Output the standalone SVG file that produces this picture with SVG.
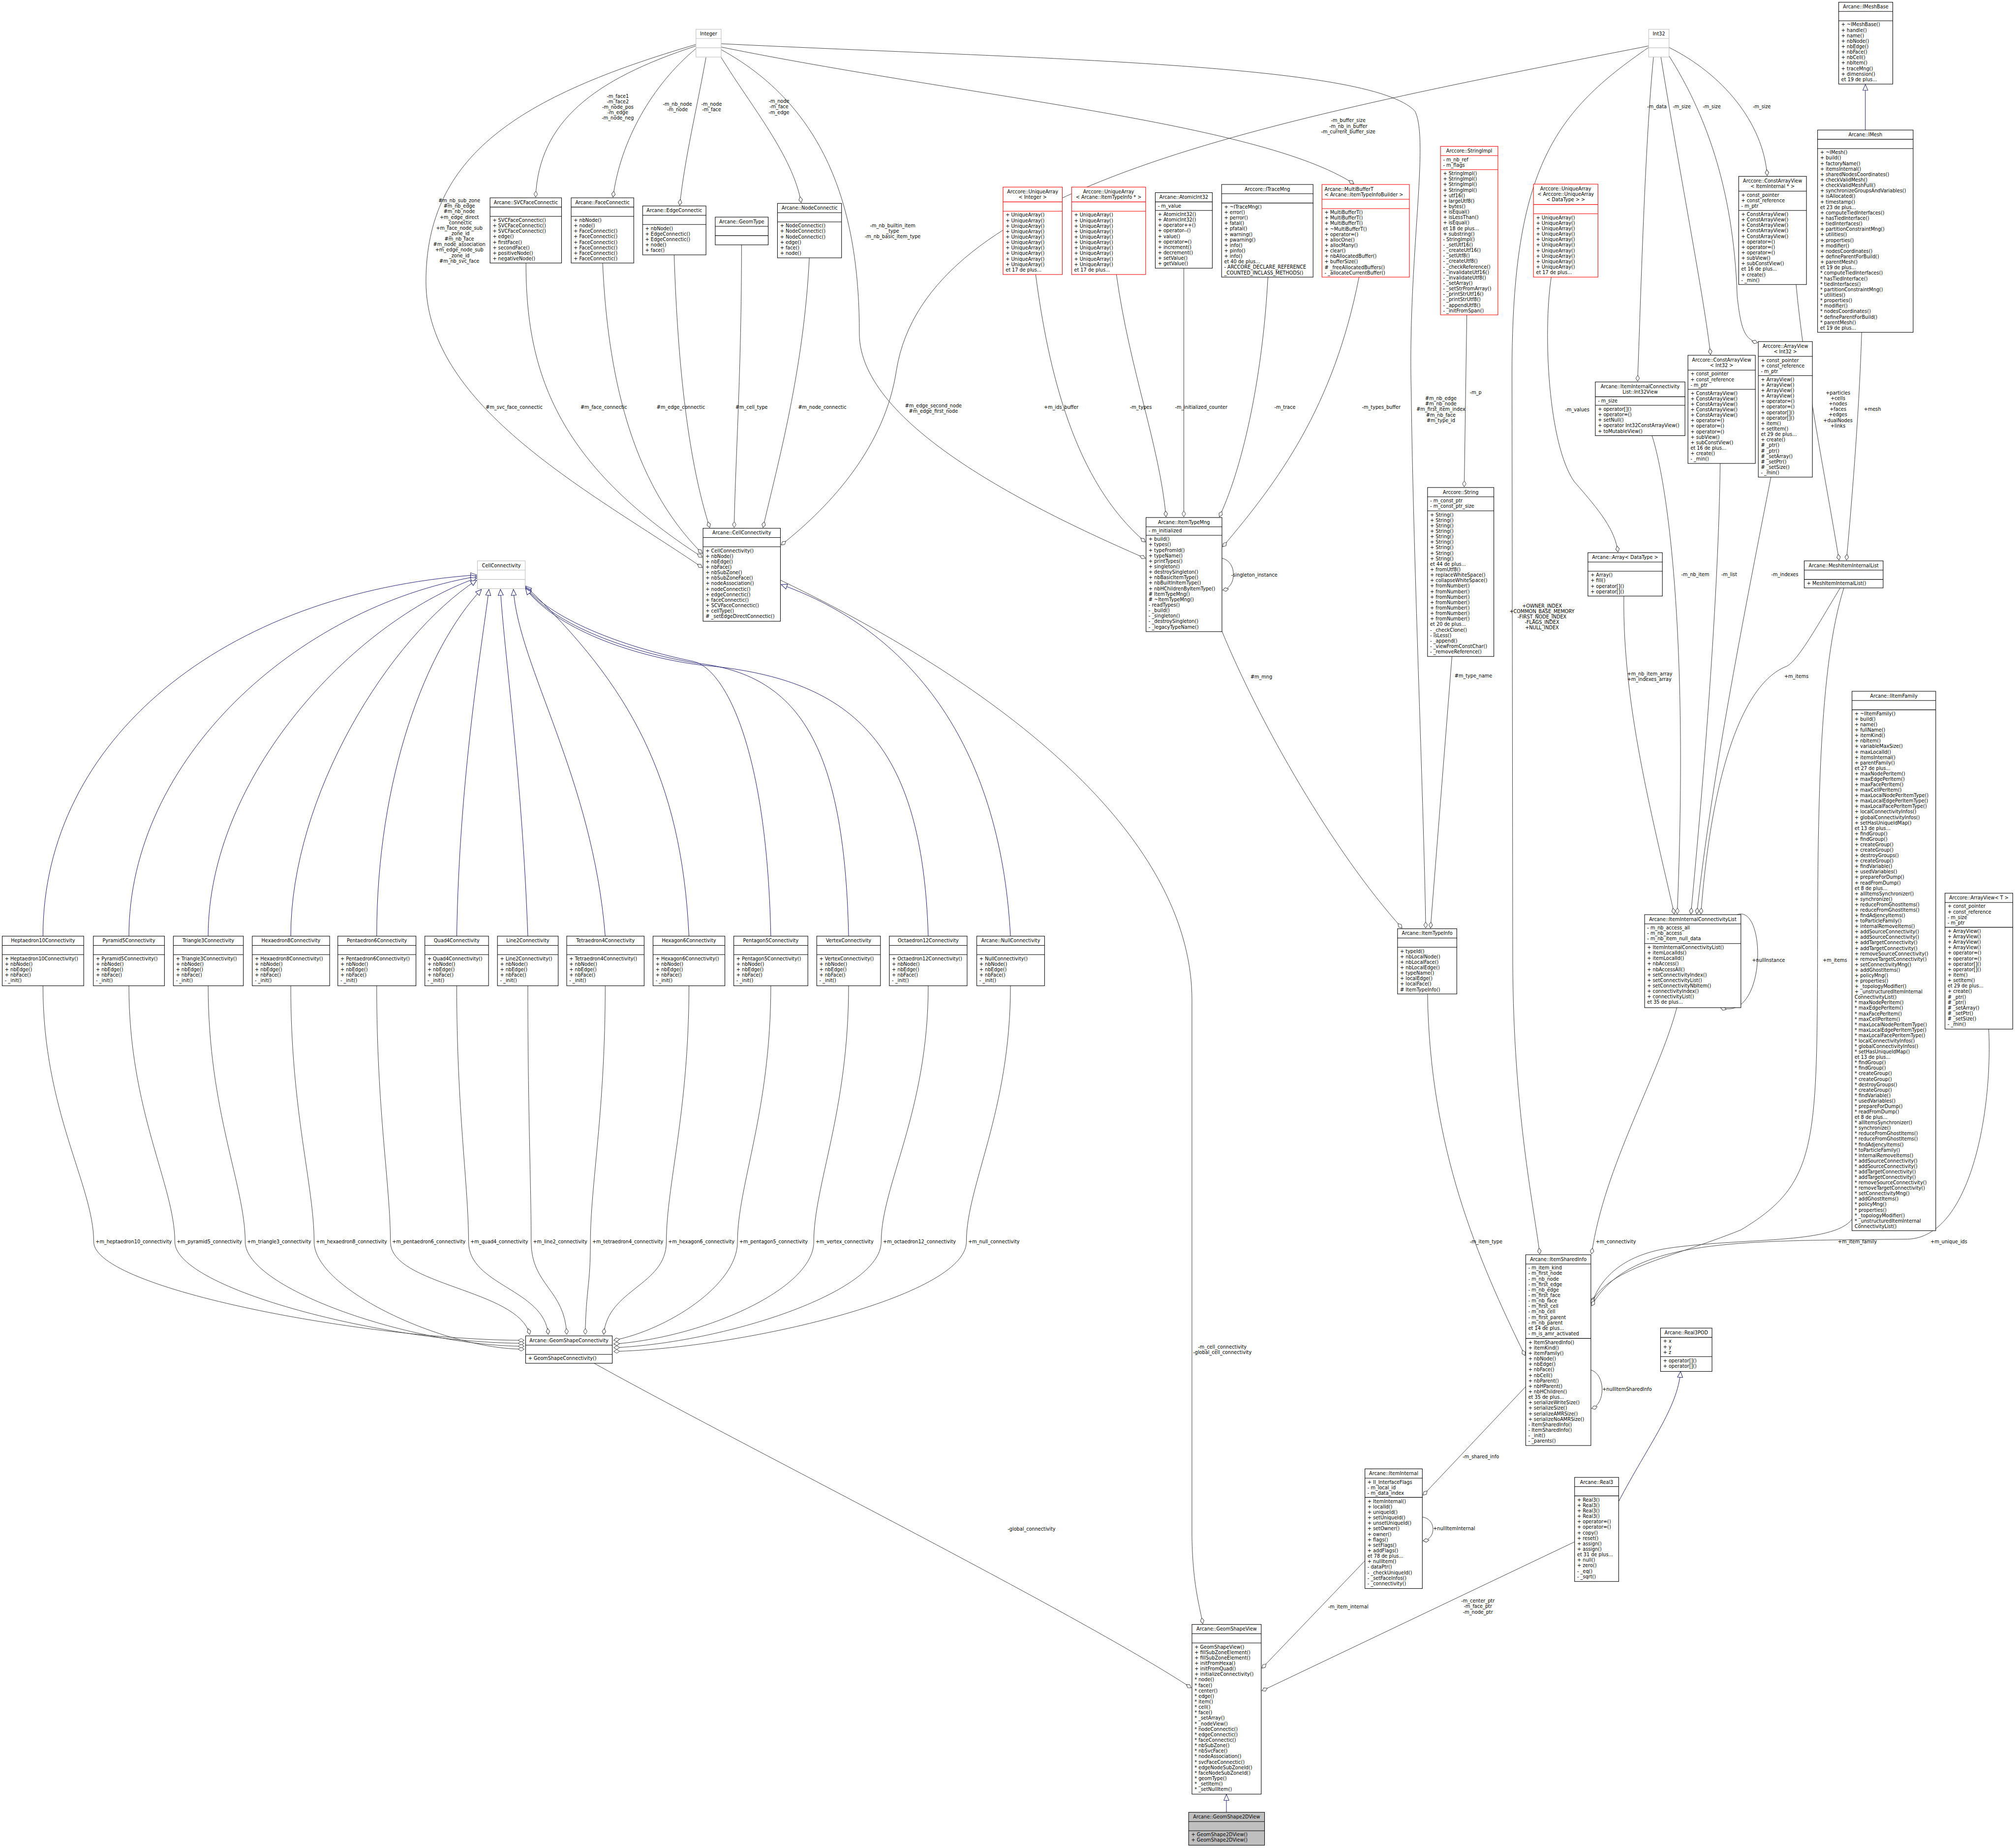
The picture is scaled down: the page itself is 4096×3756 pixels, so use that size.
<svg xmlns="http://www.w3.org/2000/svg" width="4096" height="3756" viewBox="0 0 4096 3756">
<style>
text{font-family:"DejaVu Sans","Liberation Sans",sans-serif;font-size:12.9px;fill:#000}
.t{text-anchor:middle}
.n rect{fill:#fff;stroke:#000;stroke-width:1.4}
.n line{stroke:#000;stroke-width:1.4}
.r rect,.r line{stroke:#f00}
.g rect,.g line{stroke:#bfbfbf}
.f rect{fill:#bfbfbf}
.e path{fill:none;stroke:#404040;stroke-width:1.3;marker-end:url(#d)}
.i path{fill:none;stroke:#191970;stroke-width:1.3;marker-end:url(#t)}
</style>
<defs>
<marker id="d" markerWidth="18" markerHeight="12" refX="17" refY="6" orient="auto" markerUnits="userSpaceOnUse"><path d="M1,6 L9,1 L17,6 L9,11 Z" fill="#fff" stroke="#404040" stroke-width="1.3"/></marker>
<marker id="t" markerWidth="18" markerHeight="16" refX="17" refY="8" orient="auto" markerUnits="userSpaceOnUse"><path d="M1,1 L17,8 L1,15 Z" fill="#fff" stroke="#191970" stroke-width="1.3"/></marker>
</defs>
<rect width="4096" height="3756" fill="#fff"/>
<g transform="scale(0.752941)">

<g id="edges" class="e">
<path d="M1879,124 C1600,215 1455,330 1446,532"/>
<path d="M1879,131 C1760,230 1675,380 1655,532"/>
<path d="M1906,155 C1880,300 1850,420 1835,554"/>
<path d="M1947,155 C2030,290 2140,420 2163,547"/>
<path d="M1879,120 C1400,260 1150,420 1150,760 C1150,1100 1600,1330 1896,1532"/>
<path d="M1420,710 C1420,1000 1500,1250 1896,1504"/>
<path d="M1627,710 C1640,1000 1700,1300 1896,1494"/>
<path d="M1820,688 C1830,1000 1860,1250 1916,1424"/>
<path d="M2002,661 C2002,1000 1985,1250 1982,1424"/>
<path d="M2185,696 C2170,1000 2100,1250 2060,1424"/>
<path d="M4451,124 C3400,330 2500,500 2420,1000 C2390,1200 2250,1360 2109,1471"/>
<path d="M1947,127 C2600,260 3400,330 3655,496"/>
<path d="M1947,118 C2800,160 3700,170 3820,300 C3860,380 3800,700 3810,1060 C3815,1500 3845,2200 3849,2505"/>
<path d="M1947,134 C2250,300 2320,600 2320,900 C2320,1150 2800,1380 3092,1507"/>
<path d="M2796,741 C2830,1000 2900,1300 3092,1463"/>
<path d="M3014,741 C3050,1000 3130,1200 3148,1395"/>
<path d="M3196,724 L3196,1395"/>
<path d="M3423,748 C3410,1000 3360,1250 3292,1395"/>
<path d="M3669,748 C3600,1100 3450,1300 3301,1476"/>
<path d="M3299,1507 C3340,1515 3340,1585 3301,1593"/>
<path d="M3299,1704 C3400,1950 3600,2300 3785,2505"/>
<path d="M3920,1771 L3862,2505"/>
<path d="M3960,850 L3953,1314"/>
<path d="M4451,128 C4200,300 4083,450 4082,1000 L4084,2600 C4086,3000 4140,3250 4157,3385"/>
<path d="M4464,154 C4440,400 4430,800 4421,1029"/>
<path d="M4484,154 C4540,500 4600,800 4618,957"/>
<path d="M4506,151 C4600,300 4680,500 4690,800 C4700,890 4710,915 4745,925"/>
<path d="M4506,128 C4650,200 4760,330 4771,474"/>
<path d="M4188,748 C4165,900 4180,1200 4250,1300 C4320,1380 4360,1430 4368,1490"/>
<path d="M4460,1176 C4500,1300 4560,1700 4528,2467"/>
<path d="M4644,1251 C4640,1600 4600,2100 4565,2467"/>
<path d="M4781,1288 C4720,1600 4620,2100 4581,2467"/>
<path d="M4384,1609 C4380,1900 4460,2200 4520,2467"/>
<path d="M4968,1587 C4900,1700 4850,1790 4820,1800 C4700,1850 4620,2100 4592,2467"/>
<path d="M4849,768 C4870,1000 4930,1300 4965,1512"/>
<path d="M5026,897 C5020,1100 5000,1350 4985,1512"/>
<path d="M4690,2469 C4770,2440 4770,2760 4645,2720"/>
<path d="M4527,2720 C4480,2900 4330,3150 4297,3385"/>
<path d="M3854,2683 C3860,3100 3990,3400 4117,3659"/>
<path d="M4978,1587 C4910,1800 4907,2200 4907,2600 C4905,3100 4900,3200 4700,3320 C4500,3400 4350,3420 4297,3515"/>
<path d="M5000,3291 C4950,3360 4700,3340 4500,3370 C4380,3390 4320,3450 4297,3520"/>
<path d="M5369,2778 C5380,3000 5320,3340 5150,3345 C4700,3350 4400,3340 4297,3525"/>
<path d="M4295,3698 C4335,3710 4335,3790 4297,3802"/>
<path d="M4119,3743 L3842,4036"/>
<path d="M3840,4095 C3878,4100 3878,4155 3842,4159"/>
<path d="M3685,4213 L3407,4503"/>
<path d="M4251,4162 L3407,4564"/>
<path d="M2107,1566 C2800,1900 3218,2300 3218,2700 L3218,4150 C3220,4280 3240,4340 3247,4383"/>
<path d="M1604,3680 C2000,3900 2900,4350 3216,4556"/>
<path d="M116,2661 C116,3000 253,3200 253,3352 C253,3480 1000,3618 1415,3618"/>
<path d="M348,2661 C348,3000 472,3200 472,3352 C472,3480 1050,3626 1415,3626"/>
<path d="M562,2661 C562,3000 662,3200 662,3352 C662,3480 1120,3634 1415,3634"/>
<path d="M785,2661 C785,3000 848,3200 848,3352 C848,3480 1200,3642 1415,3642"/>
<path d="M1017,2661 C1017,3000 1054,3200 1054,3352 C1054,3470 1400,3480 1430,3602"/>
<path d="M1233,2661 C1233,3000 1265,3200 1265,3352 C1265,3470 1470,3480 1480,3602"/>
<path d="M1425,2661 C1425,3000 1434,3200 1434,3352 C1434,3470 1525,3480 1530,3602"/>
<path d="M1634,2661 C1634,3000 1594,3200 1594,3352 C1594,3470 1582,3480 1580,3602"/>
<path d="M1860,2661 C1860,3000 1799,3200 1799,3352 C1799,3470 1640,3480 1630,3602"/>
<path d="M2081,2661 C2081,3000 1991,3200 1991,3352 C1991,3470 1800,3590 1657,3618"/>
<path d="M2291,2661 C2291,3000 2197,3200 2197,3352 C2197,3480 1900,3610 1657,3628"/>
<path d="M2506,2661 C2506,3000 2379,3200 2379,3352 C2379,3490 1950,3625 1657,3638"/>
<path d="M2728,2661 C2728,3000 2609,3200 2609,3352 C2609,3500 2000,3640 1657,3648"/>
</g>
<g id="inherit" class="i">
<path d="M5036,351 L5036,228"/>
<path d="M3311,4892 L3311,4844"/>
<path d="M4370,4053 C4450,3900 4530,3800 4537,3702"/>
<path d="M116,2527 C116,2000 600,1600 1287,1552"/>
<path d="M348,2527 C348,2050 800,1640 1287,1556"/>
<path d="M562,2527 C562,2100 950,1680 1287,1560"/>
<path d="M785,2527 C785,2150 1050,1720 1287,1566"/>
<path d="M1017,2527 C1017,2100 1150,1750 1300,1591"/>
<path d="M1233,2527 C1240,2100 1300,1750 1320,1591"/>
<path d="M1425,2527 C1410,2100 1360,1750 1351,1591"/>
<path d="M1634,2527 C1600,2100 1400,1800 1386,1591"/>
<path d="M1860,2527 C1840,2100 1700,1850 1419,1582"/>
<path d="M2081,2527 C2070,2000 1950,1800 1870,1785 C1700,1750 1500,1680 1419,1585"/>
<path d="M2291,2527 C2280,2000 2150,1820 1880,1790 C1700,1760 1500,1690 1419,1587"/>
<path d="M2506,2527 C2490,2000 2300,1830 1890,1795 C1700,1770 1500,1695 1419,1589"/>
<path d="M2728,2527 C2700,2000 2450,1700 2109,1578"/>
</g>

<g id="labels">
<text class="t" x="1668" y="264">-m_face1<tspan x="1668" dy="14.8">-m_face2</tspan><tspan x="1668" dy="14.8">-m_node_pos</tspan><tspan x="1668" dy="14.8">-m_edge</tspan><tspan x="1668" dy="14.8">-m_node_neg</tspan></text>
<text class="t" x="1829" y="285">-m_nb_node<tspan x="1829" dy="14.8">-m_node</tspan></text>
<text class="t" x="1921" y="285">-m_node<tspan x="1921" dy="14.8">-m_face</tspan></text>
<text class="t" x="2103" y="278">-m_node<tspan x="2103" dy="14.8">-m_face</tspan><tspan x="2103" dy="14.8">-m_edge</tspan></text>
<text class="t" x="1240" y="546">#m_nb_sub_zone<tspan x="1240" dy="14.8">#m_nb_edge</tspan><tspan x="1240" dy="14.8">#m_nb_node</tspan><tspan x="1240" dy="14.8">+m_edge_direct</tspan><tspan x="1240" dy="14.8">_connectic</tspan><tspan x="1240" dy="14.8">+m_face_node_sub</tspan><tspan x="1240" dy="14.8">_zone_id</tspan><tspan x="1240" dy="14.8">#m_nb_face</tspan><tspan x="1240" dy="14.8">#m_node_association</tspan><tspan x="1240" dy="14.8">+m_edge_node_sub</tspan><tspan x="1240" dy="14.8">_zone_id</tspan><tspan x="1240" dy="14.8">#m_nb_svc_face</tspan></text>
<text class="t" x="2410" y="613">-m_nb_builtin_item<tspan x="2410" dy="14.8">_type</tspan><tspan x="2410" dy="14.8">-m_nb_basic_item_type</tspan></text>
<text class="t" x="3640" y="330">-m_buffer_size<tspan x="3640" dy="14.8">-m_nb_in_buffer</tspan><tspan x="3640" dy="14.8">-m_current_buffer_size</tspan></text>
<text class="t" x="3890" y="1080">#m_nb_edge<tspan x="3890" dy="14.8">#m_nb_node</tspan><tspan x="3890" dy="14.8">#m_first_item_index</tspan><tspan x="3890" dy="14.8">#m_nb_face</tspan><tspan x="3890" dy="14.8">#m_type_id</tspan></text>
<text class="t" x="2520" y="1100">#m_edge_second_node<tspan x="2520" dy="14.8">#m_edge_first_node</tspan></text>
<text class="t" x="1388" y="1104">#m_svc_face_connectic</text>
<text class="t" x="1630" y="1104">#m_face_connectic</text>
<text class="t" x="1838" y="1104">#m_edge_connectic</text>
<text class="t" x="2029" y="1104">#m_cell_type</text>
<text class="t" x="2220" y="1104">#m_node_connectic</text>
<text class="t" x="2865" y="1104">+m_ids_buffer</text>
<text class="t" x="3080" y="1104">-m_types</text>
<text class="t" x="3243" y="1104">-m_initialized_counter</text>
<text class="t" x="3469" y="1104">-m_trace</text>
<text class="t" x="3729" y="1104">-m_types_buffer</text>
<text x="3324" y="1556">-singleton_instance</text>
<text x="3376" y="1831">#m_mng</text>
<text x="3927" y="1829">#m_type_name</text>
<text x="3968" y="1064">-m_p</text>
<text x="4447" y="292">-m_data</text>
<text x="4516" y="292">-m_size</text>
<text x="4597" y="292">-m_size</text>
<text x="4732" y="292">-m_size</text>
<text class="t" x="4163" y="1640">+OWNER_INDEX<tspan x="4163" dy="14.8">+COMMON_BASE_MEMORY</tspan><tspan x="4163" dy="14.8">-FIRST_NODE_INDEX</tspan><tspan x="4163" dy="14.8">-FLAGS_INDEX</tspan><tspan x="4163" dy="14.8">+NULL_INDEX</tspan></text>
<text text-anchor="end" x="4291" y="1110">-m_values</text>
<text x="4539" y="1555">-m_nb_item</text>
<text x="4647" y="1555">-m_list</text>
<text x="4782" y="1555">-m_indexes</text>
<text x="4393" y="1823">+m_nb_item_array<tspan x="4393" dy="14.8">+m_indexes_array</tspan></text>
<text x="4817" y="1830">+m_items</text>
<text class="t" x="4962" y="1065">+particles<tspan x="4962" dy="14.8">+cells</tspan><tspan x="4962" dy="14.8">+nodes</tspan><tspan x="4962" dy="14.8">+faces</tspan><tspan x="4962" dy="14.8">+edges</tspan><tspan x="4962" dy="14.8">+dualNodes</tspan><tspan x="4962" dy="14.8">+links</tspan></text>
<text x="5032" y="1109">+mesh</text>
<text x="4730" y="2597">+nullInstance</text>
<text x="4921" y="2597">+m_items</text>
<text x="4308" y="3356">+m_connectivity</text>
<text x="3968" y="3356">-m_item_type</text>
<text x="4962" y="3356">+m_item_family</text>
<text x="5212" y="3356">+m_unique_ids</text>
<text x="4326" y="3754">+nullItemSharedInfo</text>
<text x="3949" y="3936">-m_shared_info</text>
<text x="3869" y="4131">+nullItemInternal</text>
<text class="t" x="3640" y="4341">-m_item_internal</text>
<text class="t" x="3990" y="4326">-m_center_ptr<tspan x="3990" dy="14.8">-m_face_ptr</tspan><tspan x="3990" dy="14.8">-m_node_ptr</tspan></text>
<text class="t" x="3300" y="3640">-m_cell_connectivity<tspan x="3300" dy="14.8">-global_cell_connectivity</tspan></text>
<text class="t" x="2785" y="4132">-global_connectivity</text>
<text x="258" y="3356">+m_heptaedron10_connectivity</text>
<text x="477" y="3356">+m_pyramid5_connectivity</text>
<text x="667" y="3356">+m_triangle3_connectivity</text>
<text x="853" y="3356">+m_hexaedron8_connectivity</text>
<text x="1059" y="3356">+m_pentaedron6_connectivity</text>
<text x="1270" y="3356">+m_quad4_connectivity</text>
<text x="1439" y="3356">+m_line2_connectivity</text>
<text x="1599" y="3356">+m_tetraedron4_connectivity</text>
<text x="1804" y="3356">+m_hexagon6_connectivity</text>
<text x="1996" y="3356">+m_pentagon5_connectivity</text>
<text x="2202" y="3356">+m_vertex_connectivity</text>
<text x="2384" y="3356">+m_octaedron12_connectivity</text>
<text x="2614" y="3356">+m_null_connectivity</text>
</g>

<g id="n-integer" class="n g"><rect x="1879" y="79" width="68" height="75"/><line x1="1879" y1="104" x2="1947" y2="104"/><line x1="1879" y1="129" x2="1947" y2="129"/><text class="t" x="1913" y="96">Integer</text></g>
<g id="n-int32" class="n g"><rect x="4451" y="79" width="55" height="75"/><line x1="4451" y1="104" x2="4506" y2="104"/><line x1="4451" y1="129" x2="4506" y2="129"/><text class="t" x="4478.5" y="96">Int32</text></g>

<g id="n-svcface" class="n"><rect x="1323" y="534" width="193" height="176"/><line x1="1323" y1="559" x2="1516" y2="559"/><line x1="1323" y1="584" x2="1516" y2="584"/><text class="t" x="1419.5" y="551">Arcane::SVCFaceConnectic</text><text x="1330" y="599">+ SVCFaceConnectic()<tspan x="1330" dy="14.8">+ SVCFaceConnectic()</tspan><tspan x="1330" dy="14.8">+ SVCFaceConnectic()</tspan><tspan x="1330" dy="14.8">+ edge()</tspan><tspan x="1330" dy="14.8">+ firstFace()</tspan><tspan x="1330" dy="14.8">+ secondFace()</tspan><tspan x="1330" dy="14.8">+ positiveNode()</tspan><tspan x="1330" dy="14.8">+ negativeNode()</tspan></text></g>
<g id="n-faceconnectic" class="n"><rect x="1542" y="534" width="169" height="176"/><line x1="1542" y1="559" x2="1711" y2="559"/><line x1="1542" y1="584" x2="1711" y2="584"/><text class="t" x="1626.5" y="551">Arcane::FaceConnectic</text><text x="1549" y="599">+ nbNode()<tspan x="1549" dy="14.8">+ node()</tspan><tspan x="1549" dy="14.8">+ FaceConnectic()</tspan><tspan x="1549" dy="14.8">+ FaceConnectic()</tspan><tspan x="1549" dy="14.8">+ FaceConnectic()</tspan><tspan x="1549" dy="14.8">+ FaceConnectic()</tspan><tspan x="1549" dy="14.8">+ FaceConnectic()</tspan><tspan x="1549" dy="14.8">+ FaceConnectic()</tspan></text></g>
<g id="n-edgeconnectic" class="n"><rect x="1735" y="556" width="171" height="132"/><line x1="1735" y1="581" x2="1906" y2="581"/><line x1="1735" y1="606" x2="1906" y2="606"/><text class="t" x="1820.5" y="573">Arcane::EdgeConnectic</text><text x="1742" y="621">+ nbNode()<tspan x="1742" dy="14.8">+ EdgeConnectic()</tspan><tspan x="1742" dy="14.8">+ EdgeConnectic()</tspan><tspan x="1742" dy="14.8">+ node()</tspan><tspan x="1742" dy="14.8">+ face()</tspan></text></g>
<g id="n-geomtype" class="n"><rect x="1931" y="586" width="143" height="75"/><line x1="1931" y1="611" x2="2074" y2="611"/><line x1="1931" y1="636" x2="2074" y2="636"/><text class="t" x="2002.5" y="603">Arcane::GeomType</text></g>
<g id="n-nodeconnectic" class="n"><rect x="2099" y="549" width="173" height="147"/><line x1="2099" y1="574" x2="2272" y2="574"/><line x1="2099" y1="599" x2="2272" y2="599"/><text class="t" x="2185.5" y="566">Arcane::NodeConnectic</text><text x="2106" y="614">+ NodeConnectic()<tspan x="2106" dy="14.8">+ NodeConnectic()</tspan><tspan x="2106" dy="14.8">+ NodeConnectic()</tspan><tspan x="2106" dy="14.8">+ edge()</tspan><tspan x="2106" dy="14.8">+ face()</tspan><tspan x="2106" dy="14.8">+ node()</tspan></text></g>

<g id="n-ua-integer" class="n r"><rect x="2708" y="505" width="160" height="236"/><line x1="2708" y1="545" x2="2868" y2="545"/><line x1="2708" y1="570" x2="2868" y2="570"/><text class="t" x="2788" y="522">Arccore::UniqueArray<tspan x="2788" dy="14.8">&lt; Integer &gt;</tspan></text><text x="2715" y="585">+ UniqueArray()<tspan x="2715" dy="14.8">+ UniqueArray()</tspan><tspan x="2715" dy="14.8">+ UniqueArray()</tspan><tspan x="2715" dy="14.8">+ UniqueArray()</tspan><tspan x="2715" dy="14.8">+ UniqueArray()</tspan><tspan x="2715" dy="14.8">+ UniqueArray()</tspan><tspan x="2715" dy="14.8">+ UniqueArray()</tspan><tspan x="2715" dy="14.8">+ UniqueArray()</tspan><tspan x="2715" dy="14.8">+ UniqueArray()</tspan><tspan x="2715" dy="14.8">+ UniqueArray()</tspan><tspan x="2715" dy="14.8">et 17 de plus...</tspan></text></g>
<g id="n-ua-itemtypeinfo" class="n r"><rect x="2893" y="505" width="200" height="236"/><line x1="2893" y1="545" x2="3093" y2="545"/><line x1="2893" y1="570" x2="3093" y2="570"/><text class="t" x="2993" y="522">Arccore::UniqueArray<tspan x="2993" dy="14.8">&lt; Arcane::ItemTypeInfo * &gt;</tspan></text><text x="2900" y="585">+ UniqueArray()<tspan x="2900" dy="14.8">+ UniqueArray()</tspan><tspan x="2900" dy="14.8">+ UniqueArray()</tspan><tspan x="2900" dy="14.8">+ UniqueArray()</tspan><tspan x="2900" dy="14.8">+ UniqueArray()</tspan><tspan x="2900" dy="14.8">+ UniqueArray()</tspan><tspan x="2900" dy="14.8">+ UniqueArray()</tspan><tspan x="2900" dy="14.8">+ UniqueArray()</tspan><tspan x="2900" dy="14.8">+ UniqueArray()</tspan><tspan x="2900" dy="14.8">+ UniqueArray()</tspan><tspan x="2900" dy="14.8">et 17 de plus...</tspan></text></g>
<g id="n-atomicint32" class="n"><rect x="3119" y="520" width="154" height="204"/><line x1="3119" y1="545" x2="3273" y2="545"/><line x1="3119" y1="568" x2="3273" y2="568"/><text class="t" x="3196" y="537">Arcane::AtomicInt32</text><text x="3126" y="560">- m_value</text><text x="3126" y="583">+ AtomicInt32()<tspan x="3126" dy="14.8">+ AtomicInt32()</tspan><tspan x="3126" dy="14.8">+ operator++()</tspan><tspan x="3126" dy="14.8">+ operator--()</tspan><tspan x="3126" dy="14.8">+ value()</tspan><tspan x="3126" dy="14.8">+ operator=()</tspan><tspan x="3126" dy="14.8">+ increment()</tspan><tspan x="3126" dy="14.8">+ decrement()</tspan><tspan x="3126" dy="14.8">+ setValue()</tspan><tspan x="3126" dy="14.8">+ getValue()</tspan></text></g>
<g id="n-itracemng" class="n"><rect x="3298" y="498" width="247" height="250"/><line x1="3298" y1="523" x2="3545" y2="523"/><line x1="3298" y1="548" x2="3545" y2="548"/><text class="t" x="3421.5" y="515">Arccore::ITraceMng</text><text x="3305" y="563">+ ~ITraceMng()<tspan x="3305" dy="14.8">+ error()</tspan><tspan x="3305" dy="14.8">+ perror()</tspan><tspan x="3305" dy="14.8">+ fatal()</tspan><tspan x="3305" dy="14.8">+ pfatal()</tspan><tspan x="3305" dy="14.8">+ warning()</tspan><tspan x="3305" dy="14.8">+ pwarning()</tspan><tspan x="3305" dy="14.8">+ info()</tspan><tspan x="3305" dy="14.8">+ pinfo()</tspan><tspan x="3305" dy="14.8">+ info()</tspan><tspan x="3305" dy="14.8">et 40 de plus...</tspan><tspan x="3305" dy="14.8">- ARCCORE_DECLARE_REFERENCE</tspan><tspan x="3305" dy="14.8">_COUNTED_INCLASS_METHODS()</tspan></text></g>
<g id="n-multibuffert" class="n r"><rect x="3569" y="498" width="236" height="250"/><line x1="3569" y1="538" x2="3805" y2="538"/><line x1="3569" y1="563" x2="3805" y2="563"/><text x="3576" y="515">Arcane::MultiBufferT<tspan x="3576" dy="14.8">&lt; Arcane::ItemTypeInfoBuilder &gt;</tspan></text><text x="3576" y="578">+ MultiBufferT()<tspan x="3576" dy="14.8">+ MultiBufferT()</tspan><tspan x="3576" dy="14.8">+ MultiBufferT()</tspan><tspan x="3576" dy="14.8">+ ~MultiBufferT()</tspan><tspan x="3576" dy="14.8">+ operator=()</tspan><tspan x="3576" dy="14.8">+ allocOne()</tspan><tspan x="3576" dy="14.8">+ allocMany()</tspan><tspan x="3576" dy="14.8">+ clear()</tspan><tspan x="3576" dy="14.8">+ nbAllocatedBuffer()</tspan><tspan x="3576" dy="14.8">+ bufferSize()</tspan><tspan x="3576" dy="14.8"># _freeAllocatedBuffers()</tspan><tspan x="3576" dy="14.8">- _allocateCurrentBuffer()</tspan></text></g>
<g id="n-stringimpl" class="n r"><rect x="3889" y="395" width="155" height="455"/><line x1="3889" y1="420" x2="4044" y2="420"/><line x1="3889" y1="458" x2="4044" y2="458"/><text class="t" x="3966.5" y="412">Arccore::StringImpl</text><text x="3896" y="435">- m_nb_ref<tspan x="3896" dy="14.8">- m_flags</tspan></text><text x="3896" y="473">+ StringImpl()<tspan x="3896" dy="14.8">+ StringImpl()</tspan><tspan x="3896" dy="14.8">+ StringImpl()</tspan><tspan x="3896" dy="14.8">+ StringImpl()</tspan><tspan x="3896" dy="14.8">+ utf16()</tspan><tspan x="3896" dy="14.8">+ largeUtf8()</tspan><tspan x="3896" dy="14.8">+ bytes()</tspan><tspan x="3896" dy="14.8">+ isEqual()</tspan><tspan x="3896" dy="14.8">+ isLessThan()</tspan><tspan x="3896" dy="14.8">+ isEqual()</tspan><tspan x="3896" dy="14.8">et 18 de plus...</tspan><tspan x="3896" dy="14.8">+ substring()</tspan><tspan x="3896" dy="14.8">- StringImpl()</tspan><tspan x="3896" dy="14.8">- _setUtf16()</tspan><tspan x="3896" dy="14.8">- _createUtf16()</tspan><tspan x="3896" dy="14.8">- _setUtf8()</tspan><tspan x="3896" dy="14.8">- _createUtf8()</tspan><tspan x="3896" dy="14.8">- _checkReference()</tspan><tspan x="3896" dy="14.8">- _invalidateUtf16()</tspan><tspan x="3896" dy="14.8">- _invalidateUtf8()</tspan><tspan x="3896" dy="14.8">- _setArray()</tspan><tspan x="3896" dy="14.8">- _setStrFromArray()</tspan><tspan x="3896" dy="14.8">- _printStrUtf16()</tspan><tspan x="3896" dy="14.8">- _printStrUtf8()</tspan><tspan x="3896" dy="14.8">- _appendUtf8()</tspan><tspan x="3896" dy="14.8">- _initFromSpan()</tspan></text></g>
<g id="n-ua-ua" class="n r"><rect x="4140" y="497" width="174" height="251"/><line x1="4140" y1="552" x2="4314" y2="552"/><line x1="4140" y1="577" x2="4314" y2="577"/><text class="t" x="4227" y="514">Arccore::UniqueArray<tspan x="4227" dy="14.8">&lt; Arccore::UniqueArray</tspan><tspan x="4227" dy="14.8">&lt; DataType &gt; &gt;</tspan></text><text x="4147" y="592">+ UniqueArray()<tspan x="4147" dy="14.8">+ UniqueArray()</tspan><tspan x="4147" dy="14.8">+ UniqueArray()</tspan><tspan x="4147" dy="14.8">+ UniqueArray()</tspan><tspan x="4147" dy="14.8">+ UniqueArray()</tspan><tspan x="4147" dy="14.8">+ UniqueArray()</tspan><tspan x="4147" dy="14.8">+ UniqueArray()</tspan><tspan x="4147" dy="14.8">+ UniqueArray()</tspan><tspan x="4147" dy="14.8">+ UniqueArray()</tspan><tspan x="4147" dy="14.8">+ UniqueArray()</tspan><tspan x="4147" dy="14.8">et 17 de plus...</tspan></text></g>
<g id="n-cav-iteminternal" class="n"><rect x="4694" y="476" width="183" height="292"/><line x1="4694" y1="516" x2="4877" y2="516"/><line x1="4694" y1="568" x2="4877" y2="568"/><text class="t" x="4785.5" y="493">Arccore::ConstArrayView<tspan x="4785.5" dy="14.8">&lt; ItemInternal * &gt;</tspan></text><text x="4701" y="531">+ const_pointer<tspan x="4701" dy="14.8">+ const_reference</tspan><tspan x="4701" dy="14.8">- m_ptr</tspan></text><text x="4701" y="583">+ ConstArrayView()<tspan x="4701" dy="14.8">+ ConstArrayView()</tspan><tspan x="4701" dy="14.8">+ ConstArrayView()</tspan><tspan x="4701" dy="14.8">+ ConstArrayView()</tspan><tspan x="4701" dy="14.8">+ ConstArrayView()</tspan><tspan x="4701" dy="14.8">+ operator=()</tspan><tspan x="4701" dy="14.8">+ operator=()</tspan><tspan x="4701" dy="14.8">+ operator=()</tspan><tspan x="4701" dy="14.8">+ subView()</tspan><tspan x="4701" dy="14.8">+ subConstView()</tspan><tspan x="4701" dy="14.8">et 16 de plus...</tspan><tspan x="4701" dy="14.8">+ create()</tspan><tspan x="4701" dy="14.8">- _min()</tspan></text></g>
<g id="n-imeshbase" class="n"><rect x="4964" y="6" width="146" height="221"/><line x1="4964" y1="31" x2="5110" y2="31"/><line x1="4964" y1="56" x2="5110" y2="56"/><text class="t" x="5037" y="23">Arcane::IMeshBase</text><text x="4971" y="71">+ ~IMeshBase()<tspan x="4971" dy="14.8">+ handle()</tspan><tspan x="4971" dy="14.8">+ name()</tspan><tspan x="4971" dy="14.8">+ nbNode()</tspan><tspan x="4971" dy="14.8">+ nbEdge()</tspan><tspan x="4971" dy="14.8">+ nbFace()</tspan><tspan x="4971" dy="14.8">+ nbCell()</tspan><tspan x="4971" dy="14.8">+ nbItem()</tspan><tspan x="4971" dy="14.8">+ traceMng()</tspan><tspan x="4971" dy="14.8">+ dimension()</tspan><tspan x="4971" dy="14.8">et 19 de plus...</tspan></text></g>
<g id="n-imesh" class="n"><rect x="4907" y="351" width="258" height="546"/><line x1="4907" y1="376" x2="5165" y2="376"/><line x1="4907" y1="401" x2="5165" y2="401"/><text class="t" x="5036" y="368">Arcane::IMesh</text><text x="4914" y="416">+ ~IMesh()<tspan x="4914" dy="14.8">+ build()</tspan><tspan x="4914" dy="14.8">+ factoryName()</tspan><tspan x="4914" dy="14.8">+ itemsInternal()</tspan><tspan x="4914" dy="14.8">+ sharedNodesCoordinates()</tspan><tspan x="4914" dy="14.8">+ checkValidMesh()</tspan><tspan x="4914" dy="14.8">+ checkValidMeshFull()</tspan><tspan x="4914" dy="14.8">+ synchronizeGroupsAndVariables()</tspan><tspan x="4914" dy="14.8">+ isAllocated()</tspan><tspan x="4914" dy="14.8">+ timestamp()</tspan><tspan x="4914" dy="14.8">et 23 de plus...</tspan><tspan x="4914" dy="14.8">+ computeTiedInterfaces()</tspan><tspan x="4914" dy="14.8">+ hasTiedInterface()</tspan><tspan x="4914" dy="14.8">+ tiedInterfaces()</tspan><tspan x="4914" dy="14.8">+ partitionConstraintMng()</tspan><tspan x="4914" dy="14.8">+ utilities()</tspan><tspan x="4914" dy="14.8">+ properties()</tspan><tspan x="4914" dy="14.8">+ modifier()</tspan><tspan x="4914" dy="14.8">+ nodesCoordinates()</tspan><tspan x="4914" dy="14.8">+ defineParentForBuild()</tspan><tspan x="4914" dy="14.8">+ parentMesh()</tspan><tspan x="4914" dy="14.8">et 19 de plus...</tspan><tspan x="4914" dy="14.8">* computeTiedInterfaces()</tspan><tspan x="4914" dy="14.8">* hasTiedInterface()</tspan><tspan x="4914" dy="14.8">* tiedInterfaces()</tspan><tspan x="4914" dy="14.8">* partitionConstraintMng()</tspan><tspan x="4914" dy="14.8">* utilities()</tspan><tspan x="4914" dy="14.8">* properties()</tspan><tspan x="4914" dy="14.8">* modifier()</tspan><tspan x="4914" dy="14.8">* nodesCoordinates()</tspan><tspan x="4914" dy="14.8">* defineParentForBuild()</tspan><tspan x="4914" dy="14.8">* parentMesh()</tspan><tspan x="4914" dy="14.8">et 19 de plus...</tspan></text></g>

<g id="n-int32view" class="n"><rect x="4307" y="1031" width="242" height="145"/><line x1="4307" y1="1071" x2="4549" y2="1071"/><line x1="4307" y1="1094" x2="4549" y2="1094"/><text class="t" x="4428" y="1048">Arcane::ItemInternalConnectivity<tspan x="4428" dy="14.8">List::Int32View</tspan></text><text x="4314" y="1086">- m_size</text><text x="4314" y="1109">+ operator[]()<tspan x="4314" dy="14.8">+ operator=()</tspan><tspan x="4314" dy="14.8">+ setNull()</tspan><tspan x="4314" dy="14.8">+ operator Int32ConstArrayView()</tspan><tspan x="4314" dy="14.8">+ toMutableView()</tspan></text></g>
<g id="n-cav-int32" class="n"><rect x="4557" y="959" width="182" height="292"/><line x1="4557" y1="999" x2="4739" y2="999"/><line x1="4557" y1="1051" x2="4739" y2="1051"/><text class="t" x="4648" y="976">Arccore::ConstArrayView<tspan x="4648" dy="14.8">&lt; Int32 &gt;</tspan></text><text x="4564" y="1014">+ const_pointer<tspan x="4564" dy="14.8">+ const_reference</tspan><tspan x="4564" dy="14.8">- m_ptr</tspan></text><text x="4564" y="1066">+ ConstArrayView()<tspan x="4564" dy="14.8">+ ConstArrayView()</tspan><tspan x="4564" dy="14.8">+ ConstArrayView()</tspan><tspan x="4564" dy="14.8">+ ConstArrayView()</tspan><tspan x="4564" dy="14.8">+ ConstArrayView()</tspan><tspan x="4564" dy="14.8">+ operator=()</tspan><tspan x="4564" dy="14.8">+ operator=()</tspan><tspan x="4564" dy="14.8">+ operator=()</tspan><tspan x="4564" dy="14.8">+ subView()</tspan><tspan x="4564" dy="14.8">+ subConstView()</tspan><tspan x="4564" dy="14.8">et 16 de plus...</tspan><tspan x="4564" dy="14.8">+ create()</tspan><tspan x="4564" dy="14.8">- _min()</tspan></text></g>
<g id="n-av-int32" class="n"><rect x="4747" y="922" width="146" height="366"/><line x1="4747" y1="962" x2="4893" y2="962"/><line x1="4747" y1="1014" x2="4893" y2="1014"/><text class="t" x="4820" y="939">Arccore::ArrayView<tspan x="4820" dy="14.8">&lt; Int32 &gt;</tspan></text><text x="4754" y="977">+ const_pointer<tspan x="4754" dy="14.8">+ const_reference</tspan><tspan x="4754" dy="14.8">- m_ptr</tspan></text><text x="4754" y="1029">+ ArrayView()<tspan x="4754" dy="14.8">+ ArrayView()</tspan><tspan x="4754" dy="14.8">+ ArrayView()</tspan><tspan x="4754" dy="14.8">+ ArrayView()</tspan><tspan x="4754" dy="14.8">+ operator=()</tspan><tspan x="4754" dy="14.8">+ operator=()</tspan><tspan x="4754" dy="14.8">+ operator[]()</tspan><tspan x="4754" dy="14.8">+ operator[]()</tspan><tspan x="4754" dy="14.8">+ item()</tspan><tspan x="4754" dy="14.8">+ setItem()</tspan><tspan x="4754" dy="14.8">et 29 de plus...</tspan><tspan x="4754" dy="14.8">+ create()</tspan><tspan x="4754" dy="14.8"># _ptr()</tspan><tspan x="4754" dy="14.8"># _ptr()</tspan><tspan x="4754" dy="14.8"># _setArray()</tspan><tspan x="4754" dy="14.8"># _setPtr()</tspan><tspan x="4754" dy="14.8"># _setSize()</tspan><tspan x="4754" dy="14.8">- _min()</tspan></text></g>
<g id="n-array" class="n"><rect x="4287" y="1492" width="201" height="117"/><line x1="4287" y1="1517" x2="4488" y2="1517"/><line x1="4287" y1="1542" x2="4488" y2="1542"/><text class="t" x="4387.5" y="1509">Arcane::Array&lt; DataType &gt;</text><text x="4294" y="1557">+ Array()<tspan x="4294" dy="14.8">+ fill()</tspan><tspan x="4294" dy="14.8">+ operator[]()</tspan><tspan x="4294" dy="14.8">+ operator[]()</tspan></text></g>
<g id="n-meshiteminternallist" class="n"><rect x="4871" y="1514" width="213" height="73"/><line x1="4871" y1="1539" x2="5084" y2="1539"/><line x1="4871" y1="1564" x2="5084" y2="1564"/><text class="t" x="4977.5" y="1531">Arcane::MeshItemInternalList</text><text x="4878" y="1579">+ MeshItemInternalList()</text></g>

<g id="n-cellconnectivity-plain" class="n g"><rect x="1289" y="1514" width="129" height="75"/><line x1="1289" y1="1539" x2="1418" y2="1539"/><line x1="1289" y1="1564" x2="1418" y2="1564"/><text class="t" x="1353.5" y="1531">CellConnectivity</text></g>
<g id="n-cellconnectivity" class="n"><rect x="1898" y="1426" width="209" height="251"/><line x1="1898" y1="1451" x2="2107" y2="1451"/><line x1="1898" y1="1476" x2="2107" y2="1476"/><text class="t" x="2002.5" y="1443">Arcane::CellConnectivity</text><text x="1905" y="1491">+ CellConnectivity()<tspan x="1905" dy="14.8">+ nbNode()</tspan><tspan x="1905" dy="14.8">+ nbEdge()</tspan><tspan x="1905" dy="14.8">+ nbFace()</tspan><tspan x="1905" dy="14.8">+ nbSubZone()</tspan><tspan x="1905" dy="14.8">+ nbSubZoneFace()</tspan><tspan x="1905" dy="14.8">+ nodeAssociation()</tspan><tspan x="1905" dy="14.8">+ nodeConnectic()</tspan><tspan x="1905" dy="14.8">+ edgeConnectic()</tspan><tspan x="1905" dy="14.8">+ faceConnectic()</tspan><tspan x="1905" dy="14.8">+ SCVFaceConnectic()</tspan><tspan x="1905" dy="14.8">+ cellType()</tspan><tspan x="1905" dy="14.8"># _setEdgeDirectConnectic()</tspan></text></g>
<g id="n-itemtypemng" class="n"><rect x="3094" y="1397" width="205" height="308"/><line x1="3094" y1="1422" x2="3299" y2="1422"/><line x1="3094" y1="1445" x2="3299" y2="1445"/><text class="t" x="3196.5" y="1414">Arcane::ItemTypeMng</text><text x="3101" y="1437">- m_initialized</text><text x="3101" y="1460">+ build()<tspan x="3101" dy="14.8">+ types()</tspan><tspan x="3101" dy="14.8">+ typeFromId()</tspan><tspan x="3101" dy="14.8">+ typeName()</tspan><tspan x="3101" dy="14.8">+ printTypes()</tspan><tspan x="3101" dy="14.8">+ singleton()</tspan><tspan x="3101" dy="14.8">+ destroySingleton()</tspan><tspan x="3101" dy="14.8">+ nbBasicItemType()</tspan><tspan x="3101" dy="14.8">+ nbBuiltInItemType()</tspan><tspan x="3101" dy="14.8">+ nbHChildrenByItemType()</tspan><tspan x="3101" dy="14.8"># ItemTypeMng()</tspan><tspan x="3101" dy="14.8"># ~ItemTypeMng()</tspan><tspan x="3101" dy="14.8">- readTypes()</tspan><tspan x="3101" dy="14.8">- _build()</tspan><tspan x="3101" dy="14.8">- _singleton()</tspan><tspan x="3101" dy="14.8">- _destroySingleton()</tspan><tspan x="3101" dy="14.8">- _legacyTypeName()</tspan></text></g>
<g id="n-string" class="n"><rect x="3854" y="1316" width="179" height="456"/><line x1="3854" y1="1341" x2="4033" y2="1341"/><line x1="3854" y1="1379" x2="4033" y2="1379"/><text class="t" x="3943.5" y="1333">Arccore::String</text><text x="3861" y="1356">- m_const_ptr<tspan x="3861" dy="14.8">- m_const_ptr_size</tspan></text><text x="3861" y="1394">+ String()<tspan x="3861" dy="14.8">+ String()</tspan><tspan x="3861" dy="14.8">+ String()</tspan><tspan x="3861" dy="14.8">+ String()</tspan><tspan x="3861" dy="14.8">+ String()</tspan><tspan x="3861" dy="14.8">+ String()</tspan><tspan x="3861" dy="14.8">+ String()</tspan><tspan x="3861" dy="14.8">+ String()</tspan><tspan x="3861" dy="14.8">+ String()</tspan><tspan x="3861" dy="14.8">et 44 de plus...</tspan><tspan x="3861" dy="14.8">+ fromUtf8()</tspan><tspan x="3861" dy="14.8">+ replaceWhiteSpace()</tspan><tspan x="3861" dy="14.8">+ collapseWhiteSpace()</tspan><tspan x="3861" dy="14.8">+ fromNumber()</tspan><tspan x="3861" dy="14.8">+ fromNumber()</tspan><tspan x="3861" dy="14.8">+ fromNumber()</tspan><tspan x="3861" dy="14.8">+ fromNumber()</tspan><tspan x="3861" dy="14.8">+ fromNumber()</tspan><tspan x="3861" dy="14.8">+ fromNumber()</tspan><tspan x="3861" dy="14.8">+ fromNumber()</tspan><tspan x="3861" dy="14.8">et 20 de plus...</tspan><tspan x="3861" dy="14.8">- _checkClone()</tspan><tspan x="3861" dy="14.8">- isLess()</tspan><tspan x="3861" dy="14.8">- _append()</tspan><tspan x="3861" dy="14.8">- _viewFromConstChar()</tspan><tspan x="3861" dy="14.8">- _removeReference()</tspan></text></g>
<g id="n-itemtypeinfo" class="n"><rect x="3773" y="2507" width="160" height="176"/><line x1="3773" y1="2532" x2="3933" y2="2532"/><line x1="3773" y1="2557" x2="3933" y2="2557"/><text class="t" x="3853" y="2524">Arcane::ItemTypeInfo</text><text x="3780" y="2572">+ typeId()<tspan x="3780" dy="14.8">+ nbLocalNode()</tspan><tspan x="3780" dy="14.8">+ nbLocalFace()</tspan><tspan x="3780" dy="14.8">+ nbLocalEdge()</tspan><tspan x="3780" dy="14.8">+ typeName()</tspan><tspan x="3780" dy="14.8">+ localEdge()</tspan><tspan x="3780" dy="14.8">+ localFace()</tspan><tspan x="3780" dy="14.8"># ItemTypeInfo()</tspan></text></g>

<g id="n-iitemfamily" class="n"><rect x="5000" y="1866" width="226" height="1456"/><line x1="5000" y1="1891" x2="5226" y2="1891"/><line x1="5000" y1="1916" x2="5226" y2="1916"/><text class="t" x="5113" y="1883">Arcane::IItemFamily</text><text x="5007" y="1931">+ ~IItemFamily()<tspan x="5007" dy="14.72">+ build()</tspan><tspan x="5007" dy="14.72">+ name()</tspan><tspan x="5007" dy="14.72">+ fullName()</tspan><tspan x="5007" dy="14.72">+ itemKind()</tspan><tspan x="5007" dy="14.72">+ nbItem()</tspan><tspan x="5007" dy="14.72">+ variableMaxSize()</tspan><tspan x="5007" dy="14.72">+ maxLocalId()</tspan><tspan x="5007" dy="14.72">+ itemsInternal()</tspan><tspan x="5007" dy="14.72">+ parentFamily()</tspan><tspan x="5007" dy="14.72">et 27 de plus...</tspan><tspan x="5007" dy="14.72">+ maxNodePerItem()</tspan><tspan x="5007" dy="14.72">+ maxEdgePerItem()</tspan><tspan x="5007" dy="14.72">+ maxFacePerItem()</tspan><tspan x="5007" dy="14.72">+ maxCellPerItem()</tspan><tspan x="5007" dy="14.72">+ maxLocalNodePerItemType()</tspan><tspan x="5007" dy="14.72">+ maxLocalEdgePerItemType()</tspan><tspan x="5007" dy="14.72">+ maxLocalFacePerItemType()</tspan><tspan x="5007" dy="14.72">+ localConnectivityInfos()</tspan><tspan x="5007" dy="14.72">+ globalConnectivityInfos()</tspan><tspan x="5007" dy="14.72">+ setHasUniqueIdMap()</tspan><tspan x="5007" dy="14.72">et 13 de plus...</tspan><tspan x="5007" dy="14.72">+ findGroup()</tspan><tspan x="5007" dy="14.72">+ findGroup()</tspan><tspan x="5007" dy="14.72">+ createGroup()</tspan><tspan x="5007" dy="14.72">+ createGroup()</tspan><tspan x="5007" dy="14.72">+ destroyGroups()</tspan><tspan x="5007" dy="14.72">+ createGroup()</tspan><tspan x="5007" dy="14.72">+ findVariable()</tspan><tspan x="5007" dy="14.72">+ usedVariables()</tspan><tspan x="5007" dy="14.72">+ prepareForDump()</tspan><tspan x="5007" dy="14.72">+ readFromDump()</tspan><tspan x="5007" dy="14.72">et 8 de plus...</tspan><tspan x="5007" dy="14.72">+ allItemsSynchronizer()</tspan><tspan x="5007" dy="14.72">+ synchronize()</tspan><tspan x="5007" dy="14.72">+ reduceFromGhostItems()</tspan><tspan x="5007" dy="14.72">+ reduceFromGhostItems()</tspan><tspan x="5007" dy="14.72">+ findAdjencyItems()</tspan><tspan x="5007" dy="14.72">+ toParticleFamily()</tspan><tspan x="5007" dy="14.72">+ internalRemoveItems()</tspan><tspan x="5007" dy="14.72">+ addSourceConnectivity()</tspan><tspan x="5007" dy="14.72">+ addSourceConnectivity()</tspan><tspan x="5007" dy="14.72">+ addTargetConnectivity()</tspan><tspan x="5007" dy="14.72">+ addTargetConnectivity()</tspan><tspan x="5007" dy="14.72">+ removeSourceConnectivity()</tspan><tspan x="5007" dy="14.72">+ removeTargetConnectivity()</tspan><tspan x="5007" dy="14.72">+ setConnectivityMng()</tspan><tspan x="5007" dy="14.72">+ addGhostItems()</tspan><tspan x="5007" dy="14.72">+ policyMng()</tspan><tspan x="5007" dy="14.72">+ properties()</tspan><tspan x="5007" dy="14.72">+ _topologyModifier()</tspan><tspan x="5007" dy="14.72">+ _unstructuredItemInternal</tspan><tspan x="5007" dy="14.72">ConnectivityList()</tspan><tspan x="5007" dy="14.72">* maxNodePerItem()</tspan><tspan x="5007" dy="14.72">* maxEdgePerItem()</tspan><tspan x="5007" dy="14.72">* maxFacePerItem()</tspan><tspan x="5007" dy="14.72">* maxCellPerItem()</tspan><tspan x="5007" dy="14.72">* maxLocalNodePerItemType()</tspan><tspan x="5007" dy="14.72">* maxLocalEdgePerItemType()</tspan><tspan x="5007" dy="14.72">* maxLocalFacePerItemType()</tspan><tspan x="5007" dy="14.72">* localConnectivityInfos()</tspan><tspan x="5007" dy="14.72">* globalConnectivityInfos()</tspan><tspan x="5007" dy="14.72">* setHasUniqueIdMap()</tspan><tspan x="5007" dy="14.72">et 13 de plus...</tspan><tspan x="5007" dy="14.72">* findGroup()</tspan><tspan x="5007" dy="14.72">* findGroup()</tspan><tspan x="5007" dy="14.72">* createGroup()</tspan><tspan x="5007" dy="14.72">* createGroup()</tspan><tspan x="5007" dy="14.72">* destroyGroups()</tspan><tspan x="5007" dy="14.72">* createGroup()</tspan><tspan x="5007" dy="14.72">* findVariable()</tspan><tspan x="5007" dy="14.72">* usedVariables()</tspan><tspan x="5007" dy="14.72">* prepareForDump()</tspan><tspan x="5007" dy="14.72">* readFromDump()</tspan><tspan x="5007" dy="14.72">et 8 de plus...</tspan><tspan x="5007" dy="14.72">* allItemsSynchronizer()</tspan><tspan x="5007" dy="14.72">* synchronize()</tspan><tspan x="5007" dy="14.72">* reduceFromGhostItems()</tspan><tspan x="5007" dy="14.72">* reduceFromGhostItems()</tspan><tspan x="5007" dy="14.72">* findAdjencyItems()</tspan><tspan x="5007" dy="14.72">* toParticleFamily()</tspan><tspan x="5007" dy="14.72">* internalRemoveItems()</tspan><tspan x="5007" dy="14.72">* addSourceConnectivity()</tspan><tspan x="5007" dy="14.72">* addSourceConnectivity()</tspan><tspan x="5007" dy="14.72">* addTargetConnectivity()</tspan><tspan x="5007" dy="14.72">* addTargetConnectivity()</tspan><tspan x="5007" dy="14.72">* removeSourceConnectivity()</tspan><tspan x="5007" dy="14.72">* removeTargetConnectivity()</tspan><tspan x="5007" dy="14.72">* setConnectivityMng()</tspan><tspan x="5007" dy="14.72">* addGhostItems()</tspan><tspan x="5007" dy="14.72">* policyMng()</tspan><tspan x="5007" dy="14.72">* properties()</tspan><tspan x="5007" dy="14.72">* _topologyModifier()</tspan><tspan x="5007" dy="14.72">* _unstructuredItemInternal</tspan><tspan x="5007" dy="14.72">ConnectivityList()</tspan></text></g>
<g id="n-iicl" class="n"><rect x="4440" y="2469" width="260" height="251"/><line x1="4440" y1="2494" x2="4700" y2="2494"/><line x1="4440" y1="2547" x2="4700" y2="2547"/><text class="t" x="4570" y="2486">Arcane::ItemInternalConnectivityList</text><text x="4447" y="2509">- m_nb_access_all<tspan x="4447" dy="14.8">- m_nb_access</tspan><tspan x="4447" dy="14.8">- m_nb_item_null_data</tspan></text><text x="4447" y="2562">+ ItemInternalConnectivityList()<tspan x="4447" dy="14.8">+ itemLocalIds()</tspan><tspan x="4447" dy="14.8">+ itemLocalId()</tspan><tspan x="4447" dy="14.8">+ nbAccess()</tspan><tspan x="4447" dy="14.8">+ nbAccessAll()</tspan><tspan x="4447" dy="14.8">+ setConnectivityIndex()</tspan><tspan x="4447" dy="14.8">+ setConnectivityList()</tspan><tspan x="4447" dy="14.8">+ setConnectivityNbItem()</tspan><tspan x="4447" dy="14.8">+ connectivityIndex()</tspan><tspan x="4447" dy="14.8">+ connectivityList()</tspan><tspan x="4447" dy="14.8">et 35 de plus...</tspan></text></g>
<g id="n-arrayview-t" class="n"><rect x="5251" y="2411" width="183" height="367"/><line x1="5251" y1="2436" x2="5434" y2="2436"/><line x1="5251" y1="2503" x2="5434" y2="2503"/><text class="t" x="5342.5" y="2428">Arccore::ArrayView&lt; T &gt;</text><text x="5258" y="2451">+ const_pointer<tspan x="5258" dy="14.8">+ const_reference</tspan><tspan x="5258" dy="14.8">- m_size</tspan><tspan x="5258" dy="14.8">- m_ptr</tspan></text><text x="5258" y="2518">+ ArrayView()<tspan x="5258" dy="14.8">+ ArrayView()</tspan><tspan x="5258" dy="14.8">+ ArrayView()</tspan><tspan x="5258" dy="14.8">+ ArrayView()</tspan><tspan x="5258" dy="14.8">+ operator=()</tspan><tspan x="5258" dy="14.8">+ operator=()</tspan><tspan x="5258" dy="14.8">+ operator[]()</tspan><tspan x="5258" dy="14.8">+ operator[]()</tspan><tspan x="5258" dy="14.8">+ item()</tspan><tspan x="5258" dy="14.8">+ setItem()</tspan><tspan x="5258" dy="14.8">et 29 de plus...</tspan><tspan x="5258" dy="14.8">+ create()</tspan><tspan x="5258" dy="14.8"># _ptr()</tspan><tspan x="5258" dy="14.8"># _ptr()</tspan><tspan x="5258" dy="14.8"># _setArray()</tspan><tspan x="5258" dy="14.8"># _setPtr()</tspan><tspan x="5258" dy="14.8"># _setSize()</tspan><tspan x="5258" dy="14.8">- _min()</tspan></text></g>

<g id="n-heptaedron10" class="n"><rect x="6" y="2527" width="220" height="134"/><line x1="6" y1="2552" x2="226" y2="2552"/><line x1="6" y1="2577" x2="226" y2="2577"/><text class="t" x="116" y="2544">Heptaedron10Connectivity</text><text x="13" y="2592">+ Heptaedron10Connectivity()<tspan x="13" dy="14.8">+ nbNode()</tspan><tspan x="13" dy="14.8">+ nbEdge()</tspan><tspan x="13" dy="14.8">+ nbFace()</tspan><tspan x="13" dy="14.8">- _init()</tspan></text></g>
<g id="n-pyramid5" class="n"><rect x="252" y="2527" width="192" height="134"/><line x1="252" y1="2552" x2="444" y2="2552"/><line x1="252" y1="2577" x2="444" y2="2577"/><text class="t" x="348" y="2544">Pyramid5Connectivity</text><text x="259" y="2592">+ Pyramid5Connectivity()<tspan x="259" dy="14.8">+ nbNode()</tspan><tspan x="259" dy="14.8">+ nbEdge()</tspan><tspan x="259" dy="14.8">+ nbFace()</tspan><tspan x="259" dy="14.8">- _init()</tspan></text></g>
<g id="n-triangle3" class="n"><rect x="468" y="2527" width="189" height="134"/><line x1="468" y1="2552" x2="657" y2="2552"/><line x1="468" y1="2577" x2="657" y2="2577"/><text class="t" x="562.5" y="2544">Triangle3Connectivity</text><text x="475" y="2592">+ Triangle3Connectivity()<tspan x="475" dy="14.8">+ nbNode()</tspan><tspan x="475" dy="14.8">+ nbEdge()</tspan><tspan x="475" dy="14.8">+ nbFace()</tspan><tspan x="475" dy="14.8">- _init()</tspan></text></g>
<g id="n-hexaedron8" class="n"><rect x="681" y="2527" width="209" height="134"/><line x1="681" y1="2552" x2="890" y2="2552"/><line x1="681" y1="2577" x2="890" y2="2577"/><text class="t" x="785.5" y="2544">Hexaedron8Connectivity</text><text x="688" y="2592">+ Hexaedron8Connectivity()<tspan x="688" dy="14.8">+ nbNode()</tspan><tspan x="688" dy="14.8">+ nbEdge()</tspan><tspan x="688" dy="14.8">+ nbFace()</tspan><tspan x="688" dy="14.8">- _init()</tspan></text></g>
<g id="n-pentaedron6" class="n"><rect x="912" y="2527" width="211" height="134"/><line x1="912" y1="2552" x2="1123" y2="2552"/><line x1="912" y1="2577" x2="1123" y2="2577"/><text class="t" x="1017.5" y="2544">Pentaedron6Connectivity</text><text x="919" y="2592">+ Pentaedron6Connectivity()<tspan x="919" dy="14.8">+ nbNode()</tspan><tspan x="919" dy="14.8">+ nbEdge()</tspan><tspan x="919" dy="14.8">+ nbFace()</tspan><tspan x="919" dy="14.8">- _init()</tspan></text></g>
<g id="n-quad4" class="n"><rect x="1147" y="2527" width="172" height="134"/><line x1="1147" y1="2552" x2="1319" y2="2552"/><line x1="1147" y1="2577" x2="1319" y2="2577"/><text class="t" x="1233" y="2544">Quad4Connectivity</text><text x="1154" y="2592">+ Quad4Connectivity()<tspan x="1154" dy="14.8">+ nbNode()</tspan><tspan x="1154" dy="14.8">+ nbEdge()</tspan><tspan x="1154" dy="14.8">+ nbFace()</tspan><tspan x="1154" dy="14.8">- _init()</tspan></text></g>
<g id="n-line2" class="n"><rect x="1343" y="2527" width="164" height="134"/><line x1="1343" y1="2552" x2="1507" y2="2552"/><line x1="1343" y1="2577" x2="1507" y2="2577"/><text class="t" x="1425" y="2544">Line2Connectivity</text><text x="1350" y="2592">+ Line2Connectivity()<tspan x="1350" dy="14.8">+ nbNode()</tspan><tspan x="1350" dy="14.8">+ nbEdge()</tspan><tspan x="1350" dy="14.8">+ nbFace()</tspan><tspan x="1350" dy="14.8">- _init()</tspan></text></g>
<g id="n-tetraedron4" class="n"><rect x="1530" y="2527" width="209" height="134"/><line x1="1530" y1="2552" x2="1739" y2="2552"/><line x1="1530" y1="2577" x2="1739" y2="2577"/><text class="t" x="1634.5" y="2544">Tetraedron4Connectivity</text><text x="1537" y="2592">+ Tetraedron4Connectivity()<tspan x="1537" dy="14.8">+ nbNode()</tspan><tspan x="1537" dy="14.8">+ nbEdge()</tspan><tspan x="1537" dy="14.8">+ nbFace()</tspan><tspan x="1537" dy="14.8">- _init()</tspan></text></g>
<g id="n-hexagon6" class="n"><rect x="1763" y="2527" width="194" height="134"/><line x1="1763" y1="2552" x2="1957" y2="2552"/><line x1="1763" y1="2577" x2="1957" y2="2577"/><text class="t" x="1860" y="2544">Hexagon6Connectivity</text><text x="1770" y="2592">+ Hexagon6Connectivity()<tspan x="1770" dy="14.8">+ nbNode()</tspan><tspan x="1770" dy="14.8">+ nbEdge()</tspan><tspan x="1770" dy="14.8">+ nbFace()</tspan><tspan x="1770" dy="14.8">- _init()</tspan></text></g>
<g id="n-pentagon5" class="n"><rect x="1981" y="2527" width="200" height="134"/><line x1="1981" y1="2552" x2="2181" y2="2552"/><line x1="1981" y1="2577" x2="2181" y2="2577"/><text class="t" x="2081" y="2544">Pentagon5Connectivity</text><text x="1988" y="2592">+ Pentagon5Connectivity()<tspan x="1988" dy="14.8">+ nbNode()</tspan><tspan x="1988" dy="14.8">+ nbEdge()</tspan><tspan x="1988" dy="14.8">+ nbFace()</tspan><tspan x="1988" dy="14.8">- _init()</tspan></text></g>
<g id="n-vertex" class="n"><rect x="2205" y="2527" width="172" height="134"/><line x1="2205" y1="2552" x2="2377" y2="2552"/><line x1="2205" y1="2577" x2="2377" y2="2577"/><text class="t" x="2291" y="2544">VertexConnectivity</text><text x="2212" y="2592">+ VertexConnectivity()<tspan x="2212" dy="14.8">+ nbNode()</tspan><tspan x="2212" dy="14.8">+ nbEdge()</tspan><tspan x="2212" dy="14.8">+ nbFace()</tspan><tspan x="2212" dy="14.8">- _init()</tspan></text></g>
<g id="n-octaedron12" class="n"><rect x="2401" y="2527" width="210" height="134"/><line x1="2401" y1="2552" x2="2611" y2="2552"/><line x1="2401" y1="2577" x2="2611" y2="2577"/><text class="t" x="2506" y="2544">Octaedron12Connectivity</text><text x="2408" y="2592">+ Octaedron12Connectivity()<tspan x="2408" dy="14.8">+ nbNode()</tspan><tspan x="2408" dy="14.8">+ nbEdge()</tspan><tspan x="2408" dy="14.8">+ nbFace()</tspan><tspan x="2408" dy="14.8">- _init()</tspan></text></g>
<g id="n-nullconnectivity" class="n"><rect x="2637" y="2527" width="183" height="134"/><line x1="2637" y1="2552" x2="2820" y2="2552"/><line x1="2637" y1="2577" x2="2820" y2="2577"/><text class="t" x="2728.5" y="2544">Arcane::NullConnectivity</text><text x="2644" y="2592">+ NullConnectivity()<tspan x="2644" dy="14.8">+ nbNode()</tspan><tspan x="2644" dy="14.8">+ nbEdge()</tspan><tspan x="2644" dy="14.8">+ nbFace()</tspan><tspan x="2644" dy="14.8">- _init()</tspan></text></g>

<g id="n-geomshapeconnectivity" class="n"><rect x="1419" y="3606" width="234" height="74"/><line x1="1419" y1="3631" x2="1653" y2="3631"/><line x1="1419" y1="3656" x2="1653" y2="3656"/><text class="t" x="1536" y="3623">Arcane::GeomShapeConnectivity</text><text x="1426" y="3671">+ GeomShapeConnectivity()</text></g>
<g id="n-itemsharedinfo" class="n"><rect x="4119" y="3387" width="176" height="515"/><line x1="4119" y1="3412" x2="4295" y2="3412"/><line x1="4119" y1="3613" x2="4295" y2="3613"/><text class="t" x="4207" y="3404">Arcane::ItemSharedInfo</text><text x="4126" y="3427">- m_item_kind<tspan x="4126" dy="14.8">- m_first_node</tspan><tspan x="4126" dy="14.8">- m_nb_node</tspan><tspan x="4126" dy="14.8">- m_first_edge</tspan><tspan x="4126" dy="14.8">- m_nb_edge</tspan><tspan x="4126" dy="14.8">- m_first_face</tspan><tspan x="4126" dy="14.8">- m_nb_face</tspan><tspan x="4126" dy="14.8">- m_first_cell</tspan><tspan x="4126" dy="14.8">- m_nb_cell</tspan><tspan x="4126" dy="14.8">- m_first_parent</tspan><tspan x="4126" dy="14.8">- m_nb_parent</tspan><tspan x="4126" dy="14.8">et 14 de plus...</tspan><tspan x="4126" dy="14.8">- m_is_amr_activated</tspan></text><text x="4126" y="3628">+ ItemSharedInfo()<tspan x="4126" dy="14.8">+ itemKind()</tspan><tspan x="4126" dy="14.8">+ itemFamily()</tspan><tspan x="4126" dy="14.8">+ nbNode()</tspan><tspan x="4126" dy="14.8">+ nbEdge()</tspan><tspan x="4126" dy="14.8">+ nbFace()</tspan><tspan x="4126" dy="14.8">+ nbCell()</tspan><tspan x="4126" dy="14.8">+ nbParent()</tspan><tspan x="4126" dy="14.8">+ nbHParent()</tspan><tspan x="4126" dy="14.8">+ nbHChildren()</tspan><tspan x="4126" dy="14.8">et 35 de plus...</tspan><tspan x="4126" dy="14.8">+ serializeWriteSize()</tspan><tspan x="4126" dy="14.8">+ serializeSize()</tspan><tspan x="4126" dy="14.8">+ serializeAMRSize()</tspan><tspan x="4126" dy="14.8">+ serializeNoAMRSize()</tspan><tspan x="4126" dy="14.8">- ItemSharedInfo()</tspan><tspan x="4126" dy="14.8">- ItemSharedInfo()</tspan><tspan x="4126" dy="14.8">- _init()</tspan><tspan x="4126" dy="14.8">- _parents()</tspan></text></g>
<g id="n-real3pod" class="n"><rect x="4483" y="3585" width="139" height="117"/><line x1="4483" y1="3610" x2="4622" y2="3610"/><line x1="4483" y1="3662" x2="4622" y2="3662"/><text class="t" x="4552.5" y="3602">Arcane::Real3POD</text><text x="4490" y="3625">+ x<tspan x="4490" dy="14.8">+ y</tspan><tspan x="4490" dy="14.8">+ z</tspan></text><text x="4490" y="3677">+ operator[]()<tspan x="4490" dy="14.8">+ operator[]()</tspan></text></g>
<g id="n-iteminternal" class="n"><rect x="3685" y="3965" width="155" height="323"/><line x1="3685" y1="3990" x2="3840" y2="3990"/><line x1="3685" y1="4042" x2="3840" y2="4042"/><text class="t" x="3762.5" y="3982">Arcane::ItemInternal</text><text x="3692" y="4005">+ II_InterfaceFlags<tspan x="3692" dy="14.8">- m_local_id</tspan><tspan x="3692" dy="14.8">- m_data_index</tspan></text><text x="3692" y="4057">+ ItemInternal()<tspan x="3692" dy="14.8">+ localId()</tspan><tspan x="3692" dy="14.8">+ uniqueId()</tspan><tspan x="3692" dy="14.8">+ setUniqueId()</tspan><tspan x="3692" dy="14.8">+ unsetUniqueId()</tspan><tspan x="3692" dy="14.8">+ setOwner()</tspan><tspan x="3692" dy="14.8">+ owner()</tspan><tspan x="3692" dy="14.8">+ flags()</tspan><tspan x="3692" dy="14.8">+ setFlags()</tspan><tspan x="3692" dy="14.8">+ addFlags()</tspan><tspan x="3692" dy="14.8">et 78 de plus...</tspan><tspan x="3692" dy="14.8">+ nullItem()</tspan><tspan x="3692" dy="14.8">- dataPtr()</tspan><tspan x="3692" dy="14.8">- _checkUniqueId()</tspan><tspan x="3692" dy="14.8">- _setFaceInfos()</tspan><tspan x="3692" dy="14.8">- _connectivity()</tspan></text></g>
<g id="n-real3" class="n"><rect x="4251" y="3988" width="119" height="281"/><line x1="4251" y1="4013" x2="4370" y2="4013"/><line x1="4251" y1="4038" x2="4370" y2="4038"/><text class="t" x="4310.5" y="4005">Arcane::Real3</text><text x="4258" y="4053">+ Real3()<tspan x="4258" dy="14.8">+ Real3()</tspan><tspan x="4258" dy="14.8">+ Real3()</tspan><tspan x="4258" dy="14.8">+ Real3()</tspan><tspan x="4258" dy="14.8">+ operator=()</tspan><tspan x="4258" dy="14.8">+ operator=()</tspan><tspan x="4258" dy="14.8">+ copy()</tspan><tspan x="4258" dy="14.8">+ reset()</tspan><tspan x="4258" dy="14.8">+ assign()</tspan><tspan x="4258" dy="14.8">+ assign()</tspan><tspan x="4258" dy="14.8">et 31 de plus...</tspan><tspan x="4258" dy="14.8">+ null()</tspan><tspan x="4258" dy="14.8">+ zero()</tspan><tspan x="4258" dy="14.8">- _eq()</tspan><tspan x="4258" dy="14.8">- _sqrt()</tspan></text></g>
<g id="n-geomshapeview" class="n"><rect x="3218" y="4385" width="187" height="458"/><line x1="3218" y1="4410" x2="3405" y2="4410"/><line x1="3218" y1="4435" x2="3405" y2="4435"/><text class="t" x="3311.5" y="4402">Arcane::GeomShapeView</text><text x="3225" y="4450">+ GeomShapeView()<tspan x="3225" dy="14.8">+ fillSubZoneElement()</tspan><tspan x="3225" dy="14.8">+ fillSubZoneElement()</tspan><tspan x="3225" dy="14.8">+ initFromHexa()</tspan><tspan x="3225" dy="14.8">+ initFromQuad()</tspan><tspan x="3225" dy="14.8">+ initializeConnectivity()</tspan><tspan x="3225" dy="14.8">* node()</tspan><tspan x="3225" dy="14.8">* face()</tspan><tspan x="3225" dy="14.8">* center()</tspan><tspan x="3225" dy="14.8">* edge()</tspan><tspan x="3225" dy="14.8">* item()</tspan><tspan x="3225" dy="14.8">* cell()</tspan><tspan x="3225" dy="14.8">* face()</tspan><tspan x="3225" dy="14.8">* _setArray()</tspan><tspan x="3225" dy="14.8">* _nodeView()</tspan><tspan x="3225" dy="14.8">* nodeConnectic()</tspan><tspan x="3225" dy="14.8">* edgeConnectic()</tspan><tspan x="3225" dy="14.8">* faceConnectic()</tspan><tspan x="3225" dy="14.8">* nbSubZone()</tspan><tspan x="3225" dy="14.8">* nbSvcFace()</tspan><tspan x="3225" dy="14.8">* nodeAssociation()</tspan><tspan x="3225" dy="14.8">* svcFaceConnectic()</tspan><tspan x="3225" dy="14.8">* edgeNodeSubZoneId()</tspan><tspan x="3225" dy="14.8">* faceNodeSubZoneId()</tspan><tspan x="3225" dy="14.8">* geomType()</tspan><tspan x="3225" dy="14.8">* _setItem()</tspan><tspan x="3225" dy="14.8">* _setNullItem()</tspan></text></g>
<g id="n-geomshape2dview" class="n f"><rect x="3209" y="4892" width="205" height="89"/><line x1="3209" y1="4917" x2="3414" y2="4917"/><line x1="3209" y1="4942" x2="3414" y2="4942"/><text class="t" x="3311.5" y="4909">Arcane::GeomShape2DView</text><text x="3216" y="4957">+ GeomShape2DView()<tspan x="3216" dy="14.8">+ GeomShape2DView()</tspan></text></g>

</g>
</svg>
